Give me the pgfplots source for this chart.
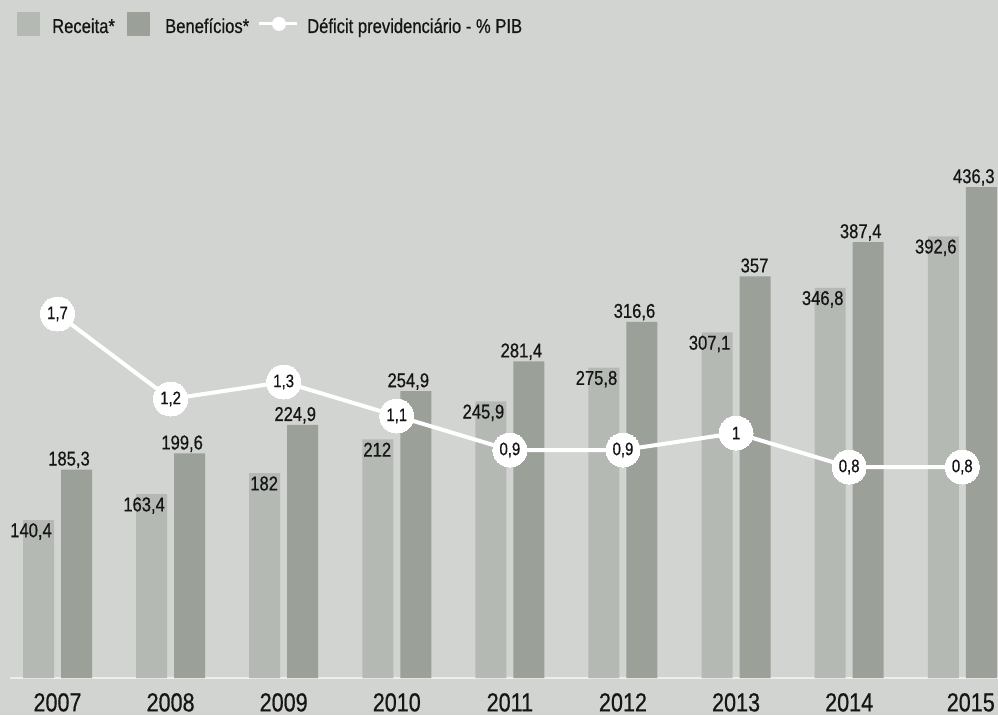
\documentclass[border=0pt]{standalone}
\usepackage{fontspec}
\setmainfont{Liberation Sans}[FakeStretch=0.83, FakeBold=0.6]
\usepackage{pgfplots}
\pgfplotsset{compat=1.18}
\definecolor{bg}{HTML}{D2D4D1}
\definecolor{rec}{HTML}{B5B9B4}
\definecolor{ben}{HTML}{9BA199}
\definecolor{basec}{HTML}{EDEDEB}
\definecolor{txt}{HTML}{151515}
\begin{document}
\begin{tikzpicture}[x=1pt,y=1pt]
\fill[bg] (0,0) rectangle (998,715);
\begin{axis}[
  at={(10pt,37pt)}, anchor=south west,
  scale only axis, width=988pt, height=628pt,
  xmin=-0.42, xmax=8.316, ymin=0, ymax=558.2,
  axis x line*=bottom, axis y line=none,
  x axis line style={draw=basec, line width=1.5pt, -},
  xtick={0,...,8},
  xticklabels={2007,2008,2009,2010,2011,2012,2013,2014,\hspace*{17pt}2015},
  major tick length=0pt,
  xticklabel style={font=\fontsize{26}{26}\selectfont, text=txt, inner sep=0pt, anchor=north, yshift=-15pt},
  ytick=\empty,
  ybar, bar width=31pt,
  clip=false,
  nodes near coords,
  every node near coord/.append style={font=\fontsize{20}{20}\selectfont, text=txt, inner sep=0pt},
  /pgf/number format/use comma,
  /pgf/number format/1000 sep={},
  /pgf/number format/assume math mode=true,
]
\addplot[fill=rec, draw=none, bar shift=-19pt,
  every node near coord/.append style={anchor=north east, xshift=13.5pt, yshift=-3pt}]
  coordinates {(0,140.4) (1,163.4) (2,182) (3,212) (4,245.9) (5,275.8) (6,307.1) (7,346.8) (8,392.6)};
\addplot[fill=ben, draw=none, bar shift=19pt,
  every node near coord/.append style={anchor=base east, xshift=13.5pt, yshift=4pt}]
  coordinates {(0,185.3) (1,199.6) (2,224.9) (3,254.9) (4,281.4) (5,316.6) (6,357) (7,387.4) (8,436.3)};
\end{axis}
\begin{axis}[
  at={(10pt,37pt)}, anchor=south west,
  scale only axis, width=988pt, height=628pt,
  xmin=-0.42, xmax=8.316, ymin=-0.441, ymax=3.253,
  hide axis, clip=false,
  /pgf/number format/use comma,
  /pgf/number format/1000 sep={},
  /pgf/number format/assume math mode=true,
]
\addplot[white, line width=4pt, mark=*, mark size=17pt,
  mark options={fill=white, draw=white, line width=0pt},
  nodes near coords, point meta=y,
  every node near coord/.append style={anchor=center, font=\fontsize{18}{18}\selectfont, text=txt, inner sep=0pt}]
  coordinates {(0,1.7) (1,1.2) (2,1.3) (3,1.1) (4,0.9) (5,0.9) (6,1) (7,0.8) (8,0.8)};
\end{axis}
% legend
\fill[rec] (17,679) rectangle (40,703);
\node[anchor=base west, inner sep=0pt, text=txt, font=\fontsize{20}{20}\selectfont] at (52,682) {Receita*};
\fill[ben] (127,679) rectangle (150,703);
\node[anchor=base west, inner sep=0pt, text=txt, font=\fontsize{20}{20}\selectfont] at (165,682) {Benefícios*};
\draw[white, line width=3pt] (259,691) -- (297,691);
\fill[white] (279,691) circle (7);
\node[anchor=base west, inner sep=0pt, text=txt, font=\fontsize{20}{20}\selectfont] at (307,682) {Déficit previdenciário - \% PIB};
\pgfresetboundingbox
\useasboundingbox (0,0) rectangle (998,715);
\end{tikzpicture}
\end{document}
